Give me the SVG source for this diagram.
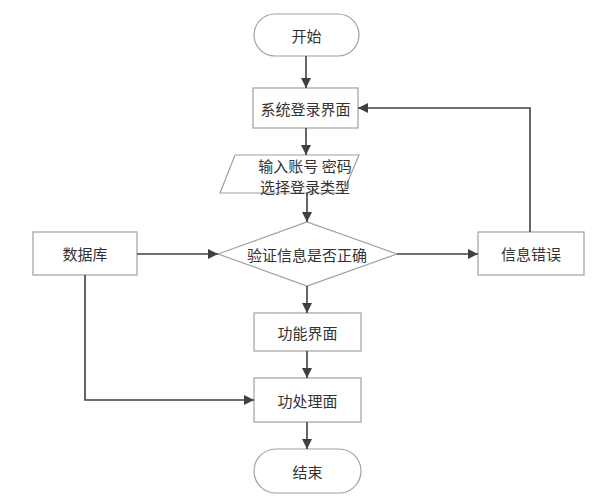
<svg xmlns="http://www.w3.org/2000/svg" width="613" height="500" viewBox="0 0 613 500">
<defs>
<marker id="ah" viewBox="0 0 10 10" refX="10" refY="5" markerWidth="10" markerHeight="10" markerUnits="userSpaceOnUse" orient="auto">
<path d="M0,0 L10,5 L0,10 z" fill="#404040"/>
</marker>
</defs>
<style>
.n{fill:#fff;stroke:#a0a0a0;stroke-width:1.2}
.t{font-family:"Noto Sans CJK SC","Noto Sans",sans-serif;font-size:15px;fill:#333;text-anchor:middle;dominant-baseline:central}
.c{fill:none;stroke:#404040;stroke-width:1.6}
</style>
<rect width="613" height="500" fill="#fff"/>
<g id="start"><rect class="n" x="254" y="14" width="105" height="42" rx="21"/><text class="t" x="306.5" y="35">开始</text></g>
<g id="login"><rect class="n" x="253" y="88" width="105" height="40"/><text class="t" x="305.5" y="108">系统登录界面</text></g>
<g id="input"><polygon class="n" points="235,155 359,155 343,193 220,193"/><text class="t" x="305" y="165">输入账号 密码</text><text class="t" x="305" y="186">选择登录类型</text></g>
<g id="verify"><polygon class="n" points="218,254 307,222 397,254 307,286"/><text class="t" x="307" y="254">验证信息是否正确</text></g>
<g id="db"><rect class="n" x="33" y="232" width="104" height="43"/><text class="t" x="85" y="253.5">数据库</text></g>
<g id="error"><rect class="n" x="478" y="232" width="106" height="43"/><text class="t" x="531" y="253.5">信息错误</text></g>
<g id="func"><rect class="n" x="254" y="313" width="107" height="38"/><text class="t" x="307.5" y="332">功能界面</text></g>
<g id="proc"><rect class="n" x="254" y="378" width="107" height="44"/><text class="t" x="307.5" y="400">功处理面</text></g>
<g id="end"><rect class="n" x="254" y="449" width="107" height="44" rx="22"/><text class="t" x="307.5" y="471">结束</text></g>
<g id="connectors">
<path class="c" d="M306,56 V88" marker-end="url(#ah)"/>
<path class="c" d="M306,128 V155" marker-end="url(#ah)"/>
<path class="c" d="M307,193 V222" marker-end="url(#ah)"/>
<path class="c" d="M137,254 H218" marker-end="url(#ah)"/>
<path class="c" d="M397,254 H478" marker-end="url(#ah)"/>
<path class="c" d="M530,232 V108 H358" marker-end="url(#ah)"/>
<path class="c" d="M307,286 V313" marker-end="url(#ah)"/>
<path class="c" d="M307,351 V378" marker-end="url(#ah)"/>
<path class="c" d="M307,422 V449" marker-end="url(#ah)"/>
<path class="c" d="M85,275 V400 H254" marker-end="url(#ah)"/>
</g>
</svg>
